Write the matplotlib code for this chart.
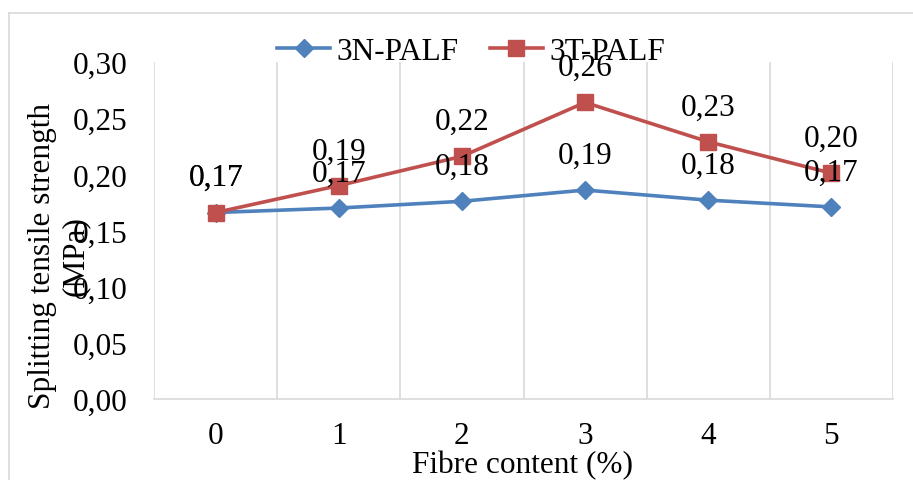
import matplotlib.pyplot as plt
from matplotlib.lines import Line2D

# fibre content categories (%)
fibre = [0, 1, 2, 3, 4, 5]
# splitting tensile strength (MPa)
palf_3n = [0.166, 0.170, 0.176, 0.186, 0.177, 0.171]
palf_3t = [0.166, 0.190, 0.216, 0.264, 0.229, 0.201]
yticks = [0.00, 0.05, 0.10, 0.15, 0.20, 0.25, 0.30]

plt.rcParams['font.family'] = ['Liberation Serif', 'DejaVu Serif']
FS = 22.5
BLUE = '#4F81BD'
RED = '#C0504D'
GRID = '#D9D9D9'

fig = plt.figure(figsize=(9.13, 4.81), dpi=100)
ax = fig.add_axes([154 / 913, 1 - 400 / 481, 739 / 913, 337 / 481])

x = list(range(len(fibre)))
ax.plot(x, palf_3n, color=BLUE, lw=2.6, marker='D', ms=9.5, label='3N-PALF', zorder=3)
ax.plot(x, palf_3t, color=RED, lw=2.6, marker='s', ms=11, label='3T-PALF', zorder=4)

# data labels above each point
for series in (palf_3n, palf_3t):
    for xi, v in zip(x, series):
        ax.annotate(f'{v:.2f}'.replace('.', ','), (xi, v), xytext=(0, 25),
                    textcoords='offset points', ha='center', va='center',
                    fontsize=FS, zorder=5)

ax.set_xlim(-0.5, len(fibre) - 0.5)
ax.set_ylim(0, 0.30)
ax.set_xticks(x)
ax.set_xticklabels([str(f) for f in fibre], fontsize=FS)
ax.set_yticks(yticks)
ax.set_yticklabels([f'{t:.2f}'.replace('.', ',') for t in yticks], fontsize=FS)
ax.tick_params(length=0)
ax.tick_params(axis='y', pad=19)
ax.tick_params(axis='x', pad=16)

# vertical gridlines at category boundaries
for b in range(len(fibre) + 1):
    ax.axvline(b - 0.5, color=GRID, lw=1.2, zorder=0)
for s in ['top', 'right', 'left']:
    ax.spines[s].set_visible(False)
ax.spines['bottom'].set_color(GRID)
ax.spines['bottom'].set_linewidth(1.2)

fig.text(522 / 913, 1 - 466 / 481, 'Fibre content (%)', ha='center', va='center', fontsize=FS)
fig.text(59 / 913, 1 - 256 / 481, 'Splitting tensile strength\n(MPa)', rotation=90,
         ha='center', va='center', multialignment='center', fontsize=FS, linespacing=1.15)

ax.legend(loc='center', bbox_to_anchor=(471 / 913, 1 - 52 / 481), bbox_transform=fig.transFigure,
          ncol=2, frameon=False, fontsize=FS, handlelength=1.7, handletextpad=0.2,
          columnspacing=1.0, borderpad=0, borderaxespad=0)

# outer chart border
fig.add_artist(Line2D([9 / 913, 1], [1 - 14 / 481, 1 - 14 / 481], color=GRID, lw=1.2,
                      transform=fig.transFigure))
fig.add_artist(Line2D([9 / 913, 9 / 913], [0, 1 - 14 / 481], color=GRID, lw=1.2,
                      transform=fig.transFigure))

fig.savefig('out.png', dpi=100)
